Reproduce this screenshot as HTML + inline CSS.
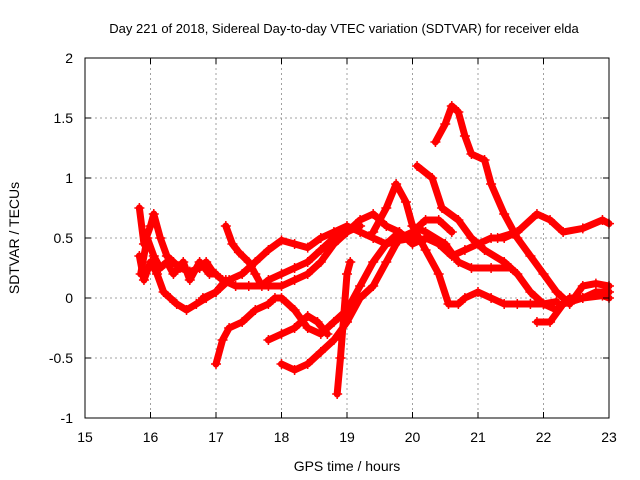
<!DOCTYPE html>
<html><head><meta charset="utf-8"><style>
body{margin:0;background:#fff}
svg{display:block;font-family:"Liberation Sans",sans-serif}
</style></head><body>
<svg id="chart" width="640" height="480" viewBox="0 0 640 480">
<rect width="640" height="480" fill="#fff"/>
<text x="344" y="33" font-size="13" text-anchor="middle">Day 221 of 2018, Sidereal Day-to-day VTEC variation (SDTVAR) for receiver elda</text>
<text x="347" y="471" font-size="14" text-anchor="middle">GPS time / hours</text>
<text transform="translate(19,238) rotate(-90)" font-size="14" text-anchor="middle">SDTVAR / TECUs</text>
<g id="grid"></g><g id="series"></g><g id="axes"></g>
</svg>
<script>
const xTicks=[15,16,17,18,19,20,21,22,23];
const yTicks=[-1,-0.5,0,0.5,1,1.5,2];
const yTickLabels=["-1","-0.5","0","0.5","1","1.5","2"];
const seriesA=[[15.83,0.75],[15.9,0.45],[16.0,0.6],[16.05,0.7],[16.15,0.5],[16.25,0.35],[16.35,0.3],[16.45,0.25],[16.6,0.22],[16.75,0.25],[16.85,0.3],[16.95,0.22],[17.1,0.15],[17.3,0.1],[17.5,0.1],[17.8,0.1],[18.0,0.1],[18.2,0.15],[18.4,0.2],[18.6,0.3],[18.8,0.45],[19.0,0.55],[19.2,0.65],[19.4,0.7],[19.6,0.6],[19.8,0.55],[20.0,0.45],[20.2,0.5],[20.4,0.45],[20.6,0.35],[20.8,0.4],[21.0,0.45],[21.2,0.5],[21.4,0.5],[21.6,0.55]];
const seriesB=[[15.83,0.35],[15.9,0.15],[16.0,0.3],[16.1,0.2],[16.2,0.05],[16.3,0.0],[16.4,-0.05],[16.55,-0.1],[16.7,-0.05],[16.85,0.0],[17.0,0.05],[17.15,0.15]];
const seriesB2=[[15.85,0.2],[15.95,0.5],[16.05,0.35],[16.15,0.25],[16.25,0.3],[16.35,0.2],[16.5,0.3],[16.6,0.15],[16.75,0.3],[16.9,0.2],[17.0,0.2]];
const seriesC=[[17.15,0.6],[17.25,0.45],[17.35,0.38],[17.5,0.3],[17.6,0.2],[17.7,0.1],[17.8,0.15],[18.0,0.2],[18.2,0.25],[18.4,0.3],[18.6,0.4],[18.8,0.5],[19.0,0.55],[19.2,0.6]];
const seriesD=[[17.0,-0.55],[17.1,-0.35],[17.2,-0.25],[17.4,-0.2],[17.6,-0.1],[17.8,-0.05],[17.9,0.0],[18.0,0.0],[18.2,-0.1],[18.4,-0.25],[18.6,-0.3],[18.8,-0.2],[19.0,-0.1],[19.2,0.1],[19.4,0.3],[19.6,0.45],[19.8,0.55]];
const seriesE=[[16.8,0.0],[17.0,0.05],[17.2,0.15],[17.4,0.2],[17.6,0.3],[17.8,0.4],[18.0,0.48],[18.2,0.45],[18.4,0.42],[18.6,0.5],[18.8,0.55],[19.0,0.6],[19.2,0.55],[19.4,0.5],[19.6,0.45],[19.8,0.48],[20.0,0.5]];
const seriesF=[[17.8,-0.35],[18.0,-0.3],[18.2,-0.25],[18.4,-0.15],[18.55,-0.2],[18.7,-0.3]];
const seriesG=[[18.0,-0.55],[18.2,-0.6],[18.4,-0.55],[18.6,-0.45],[18.8,-0.35],[19.0,-0.2],[19.2,0.0],[19.4,0.1],[19.6,0.3],[19.8,0.5],[20.0,0.55],[20.2,0.65],[20.4,0.65],[20.6,0.55]];
const seriesH=[[18.85,-0.8],[18.9,-0.5],[19.0,0.2],[19.05,0.3]];
const seriesI=[[20.35,1.3],[20.5,1.45],[20.6,1.6],[20.7,1.55],[20.8,1.35],[20.9,1.2],[21.1,1.15],[21.2,0.95],[21.4,0.7],[21.6,0.5],[21.8,0.35],[22.0,0.2],[22.2,0.05],[22.4,-0.05],[22.6,0.1],[22.8,0.12],[23.0,0.1]];
const seriesJ=[[20.07,1.1],[20.3,1.0],[20.45,0.75],[20.7,0.65],[20.9,0.5],[21.1,0.4],[21.4,0.3],[21.6,0.2],[21.8,0.05],[22.0,-0.05],[22.2,-0.1],[22.4,0.0],[22.6,0.0],[22.8,0.05],[23.0,0.05]];
const seriesK=[[21.3,0.5],[21.6,0.55],[21.9,0.7],[22.1,0.65],[22.3,0.55],[22.6,0.58],[22.9,0.65],[23.0,0.62]];
const seriesL=[[21.9,-0.2],[22.1,-0.2],[22.3,-0.05],[22.6,0.0],[22.9,0.02],[23.0,0.0]];
const seriesM=[[19.4,0.55],[19.6,0.75],[19.75,0.95],[19.9,0.8],[20.0,0.6],[20.2,0.4],[20.4,0.2],[20.55,-0.05],[20.7,-0.05],[20.8,0.0],[21.0,0.05],[21.2,0.0],[21.4,-0.05],[21.6,-0.05],[21.8,-0.05],[22.0,-0.05],[22.2,-0.03]];
const seriesN=[[20.0,0.6],[20.2,0.55],[20.5,0.45],[20.7,0.3],[20.9,0.25],[21.2,0.25],[21.5,0.25]];
const allSeries=[seriesA,seriesB,seriesB2,seriesC,seriesD,seriesE,seriesF,seriesG,seriesH,seriesI,seriesJ,seriesK,seriesL,seriesM,seriesN];
const X0=85,X1=609,Y0=418,Y1=58;
const xs=v=>X0+(v-15)/(23-15)*(X1-X0);
const ys=v=>Y0-(v+1)/(2+1)*(Y0-Y1);
const NS="http://www.w3.org/2000/svg";
function mk(t,a,p){const e=document.createElementNS(NS,t);for(const k in a)e.setAttribute(k,a[k]);p.appendChild(e);return e;}
const grid=document.getElementById('grid'),axes=document.getElementById('axes'),ser=document.getElementById('series');
xTicks.forEach((t,i)=>{const x=xs(t);
 if(i>0&&i<xTicks.length-1){const g=mk('line',{x1:x,x2:x,y1:Y1,y2:Y0,stroke:'#a0a0a0','stroke-dasharray':'2,3'},grid);
 
 }
 mk('line',{x1:x,x2:x,y1:Y0,y2:Y0-6,stroke:'#000'},axes);mk('line',{x1:x,x2:x,y1:Y1,y2:Y1+6,stroke:'#000'},axes);
 const l=mk('text',{x:x,y:Y0+24,'font-size':14,'text-anchor':'middle'},axes);l.textContent=t;
 
 });
yTicks.forEach((t,i)=>{const y=ys(t);
 if(i>0&&i<yTicks.length-1){const g=mk('line',{x1:X0,x2:X1,y1:y,y2:y,stroke:'#a0a0a0','stroke-dasharray':'2,3'},grid);
 
 }
 mk('line',{x1:X0,x2:X0+6,y1:y,y2:y,stroke:'#000'},axes);mk('line',{x1:X1,x2:X1-6,y1:y,y2:y,stroke:'#000'},axes);
 const l=mk('text',{x:X0-12,y:y+5,'font-size':14,'text-anchor':'end'},axes);l.textContent=yTickLabels[i];
 
 });
const fr=mk('rect',{x:X0,y:Y1,width:X1-X0,height:Y0-Y1,fill:'none',stroke:'#000'},axes);


allSeries.forEach((s,i)=>{
 const g=mk('g',{},ser);
 
 
 mk('polyline',{points:s.map(p=>xs(p[0])+','+ys(p[1])).join(' '),fill:'none',stroke:'#f00','stroke-width':7,'stroke-linejoin':'round','stroke-linecap':'round'},g);
 s.forEach(p=>{const x=xs(p[0]),y=ys(p[1]);
  const m=mk('path',{d:`M${x-5},${y}H${x+5}M${x},${y-5}V${y+5}`,stroke:'#f00','stroke-width':1.5},g);
  
  });
});
</script>
</body></html>
